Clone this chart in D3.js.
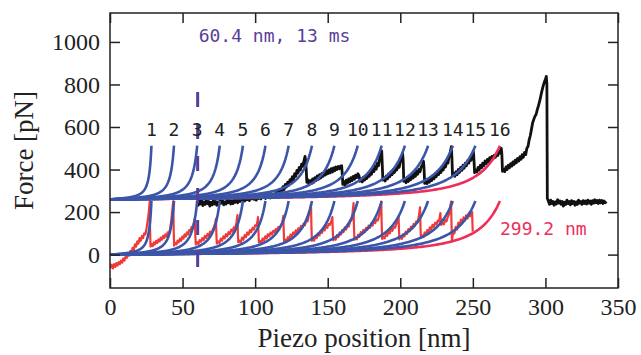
<!DOCTYPE html>
<html>
<head>
<meta charset="utf-8">
<script src="https://cdn.jsdelivr.net/npm/d3@7"></script>
<style>
  body { margin: 0; background: #fff; }
  .axis path { display: none; }
  .axis line { stroke: #222; stroke-width: 1.5; }
  .mono { font-family: "DejaVu Sans Mono", monospace; font-size: 18px; }
</style>
</head>
<body>
<script>
// tick values
var xTicks = [0, 50, 100, 150, 200, 250, 300, 350];
var yTicks = [0, 200, 400, 600, 800, 1000];

// contour lengths [nm] of the fitted curves (blue), and the last one (red)
var contourLengths = [31.8, 49.1, 66.9, 84.2, 102.0, 119.3, 137.1, 155.0, 172.2, 190.1, 208.5, 226.3, 244.1, 263.1, 280.4];
var lastContour = 299.2;
var peakLabels = ["1","2","3","4","5","6","7","8","9","10","11","12","13","14","15","16"];
var baselines = [0, 260];   // lower and upper copy of the fits [pN]
var fitTop = 252;           // force where the fitted curves stop [pN]

// marker: 60.4 nm
var markerX = 60.4;
var markerY = [-58, 765];

// lower trace (red): [piezo nm, force pN]
var redTrace = [
[0,-42],[0.6,-60],[1.2,-48],[2,-65],[2.8,-45],[3.6,-58],[4.4,-40],[5.2,-52],[6,-35],[6.8,-45],[7.6,-28],[8.4,-38],[9.2,-18],[10,-28],[10.8,-8],[11.6,-15],[12.4,5],[13.2,-5],[14,18],[14.8,10],[15.6,32],[16.4,22],[17.2,48],[18,38],[18.8,62],[19.6,52],[20.4,78],[21.2,65],[22,88],[22.8,78],[23.6,100],[24.4,95],[25.2,125],[26,160],[26.8,205],[27.4,252],[27.6,120],[27.9,38],
[28.6,50],[29.4,40],[30.2,58],[31,48],[31.8,65],[32.6,55],[33.4,72],[34.2,62],[35,80],[35.8,70],[36.6,88],[37.4,78],[38.2,95],[39,85],[39.8,105],[40.6,98],[41.4,120],[42.2,160],[43,215],[43.6,252],[43.9,110],[44.2,42],
[45,55],[45.8,48],[46.6,66],[47.4,58],[48.2,75],[49,65],[49.8,85],[50.6,75],[51.4,95],[52.2,85],[53,105],[53.8,95],[54.6,115],[55.4,108],[56.2,130],[57,125],[57.8,150],[58.5,172],[58.8,90],[59.1,48],
[60,58],[60.9,50],[61.8,68],[62.7,60],[63.6,78],[64.5,68],[65.4,88],[66.3,78],[67.2,98],[68.1,88],[69,108],[69.9,100],[70.8,118],[71.7,130],[72.5,150],[73,168],[73.3,95],[73.6,52],
[74.5,62],[75.4,55],[76.3,75],[77.2,66],[78.1,86],[79,76],[79.9,96],[80.8,86],[81.7,106],[82.6,96],[83.5,118],[84.4,108],[85.3,128],[86.2,122],[87.1,150],[87.8,186],[88.1,100],[88.4,58],
[89.2,66],[90.1,58],[91,80],[91.9,70],[92.8,92],[93.7,82],[94.6,104],[95.5,94],[96.4,115],[97.3,106],[98.2,126],[99.1,118],[100,138],[100.9,135],[101.6,158],[102,176],[102.3,105],[102.6,56],
[103.4,64],[104.3,56],[105.2,76],[106.1,66],[107,86],[107.9,76],[108.8,96],[109.7,86],[110.6,104],[111.5,95],[112.4,112],[113.3,104],[114.2,120],[115.1,112],[116,130],[116.9,122],[117.8,140],[118.7,150],[119.4,182],[119.7,110],[120,60],
[120.8,70],[121.7,62],[122.6,82],[123.5,72],[124.4,94],[125.3,84],[126.2,104],[127.1,95],[128,114],[128.9,105],[129.8,124],[130.7,115],[131.6,135],[132.5,126],[133.4,146],[134.3,138],[135.2,160],[136.1,156],[137,185],[137.8,210],[138.5,236],[138.8,130],[139.1,65],
[139.8,75],[140.7,66],[141.6,88],[142.5,78],[143.4,100],[144.3,90],[145.2,112],[146.1,102],[147,124],[147.9,114],[148.8,134],[149.7,126],[150.6,144],[151.5,140],[152.4,158],[153.2,176],[153.5,110],[153.8,68],
[154.6,78],[155.5,70],[156.4,92],[157.3,82],[158.2,104],[159.1,94],[160,116],[160.9,106],[161.8,128],[162.7,118],[163.6,140],[164.5,132],[165.4,155],[166.3,160],[167.1,195],[167.8,242],[168.1,130],[168.4,70],
[169.2,80],[170.1,72],[171,94],[171.9,84],[172.8,106],[173.7,96],[174.6,116],[175.5,106],[176.4,126],[177.3,116],[178.2,136],[179.1,126],[180,146],[180.9,136],[181.8,156],[182.7,148],[183.6,166],[184.5,160],[185.4,182],[186.2,215],[186.9,249],[187.2,140],[187.5,74],
[188.3,84],[189.2,76],[190.1,98],[191,88],[191.9,110],[192.8,100],[193.7,122],[194.6,112],[195.5,132],[196.4,126],[197.3,145],[198.2,160],[198.8,180],[199.1,115],[199.4,72],
[200.2,82],[201.1,74],[202,96],[202.9,86],[203.8,108],[204.7,98],[205.6,120],[206.5,110],[207.4,132],[208.3,122],[209.2,144],[210.1,136],[211,156],[211.9,152],[212.8,180],[213.6,222],[213.9,135],[214.2,80],
[215,90],[215.9,82],[216.8,104],[217.7,94],[218.6,116],[219.5,106],[220.4,128],[221.3,118],[222.2,140],[223.1,130],[224,150],[224.9,142],[225.8,160],[226.7,155],[227.6,195],[228.2,140],[229.1,150],[230,142],[230.9,162],[231.8,156],[232.7,176],[233.6,190],[234.4,225],[235,249],[235.3,140],[235.6,62],
[236.4,110],[237.3,100],[238.2,130],[239.1,118],[240,150],[240.9,138],[241.8,165],[242.7,150],[243.6,175],[244.5,160],[245.4,185],[246.3,170],[247.2,195],[248.1,180],[248.9,205],[249.5,200],[249.7,150],[249.9,108]
];

// upper trace (black): [piezo nm, force pN]
var blackTrace = [
[60,250],[60.8,232],[61.6,256],[62.4,238],[63.2,252],[64,230],[64.8,248],[65.6,236],[66.4,255],[67.2,240],[68,250],[68.8,228],[69.6,246],[70.4,234],[71.2,254],[72,238],[72.8,250],[73.6,232],[74.4,248],[75.2,236],[76,256],[76.8,242],[77.6,252],[78.4,234],[79.2,248],[80,238],[80.8,258],[81.6,244],[82.4,254],[83.2,238],[84,252],[84.8,240],[85.6,260],[86.4,246],[87.2,258],[88,244],[88.8,262],[89.6,250],[90.4,270],[91.2,256],[92,266],[92.8,252],[93.6,272],[94.4,258],[95.2,268],[96,254],[96.8,274],[97.6,262],[98.4,276],[99.2,260],[100,270],[100.8,256],[101.6,278],[102.4,264],[103.2,276],[104,262],[104.8,282],[105.6,268],[106.4,278],[107.2,264],[108,284],[108.8,270],[109.6,282],[110.4,266],[111.2,286],[112,272],[112.8,284],[113.6,270],[114.4,292],[115.2,280],[116,296],[116.8,284],[117.6,306],[118.4,296],[119.2,320],[120,306],[120.8,330],[121.6,318],[122.4,340],[123.2,326],[124,352],[124.8,340],[125.6,366],[126.4,352],[127.2,380],[128,368],[128.8,396],[129.6,384],[130.4,410],[131.2,398],[132,425],[132.8,415],[133.6,440],[134.4,462],[134.8,440],[135.2,400],[135.6,340],
[136.4,352],[137.2,330],[138,348],[138.8,334],[139.6,356],[140.4,340],[141.2,362],[142,348],[142.8,370],[143.6,354],[144.4,376],[145.2,360],[146,382],[146.8,368],[147.6,388],[148.4,374],[149.2,394],[150,380],[150.8,398],[151.6,384],[152.4,404],[153.2,388],[154,408],[154.8,394],[155.6,412],[156.4,400],[157.2,414],[158,404],[158.8,416],[159.6,418],[160,380],[160.4,330],
[161.2,344],[162,328],[162.8,350],[163.6,336],[164.4,356],[165.2,342],[166,362],[166.8,348],[167.6,368],[168.4,354],[169.2,374],[170,362],[170.8,380],[171.6,370],[172.2,345],[173,356],[173.8,342],[174.6,364],[175.4,350],[176.2,372],[177,358],[177.8,382],[178.6,368],[179.4,392],[180.2,378],[181,404],[181.8,390],[182.6,416],[183.4,402],[184.2,430],[185,418],[185.8,450],[186.6,470],[187.2,488],[187.6,420],[188,350],
[188.8,362],[189.6,346],[190.4,370],[191.2,356],[192,380],[192.8,366],[193.6,390],[194.4,376],[195.2,400],[196,386],[196.8,410],[197.6,398],[198.4,422],[199.2,410],[200,436],[200.8,448],[201.6,476],[202,440],[202.4,345],
[203.2,352],[204,338],[204.8,358],[205.6,344],[206.4,366],[207.2,352],[208,374],[208.8,360],[209.6,382],[210.4,368],[211.2,392],[212,378],[212.8,400],[213.6,390],[214.4,412],[215.2,420],[216,438],[216.4,400],[216.8,335],
[217.6,348],[218.4,334],[219.2,354],[220,340],[220.8,362],[221.6,348],[222.4,370],[223.2,356],[224,380],[224.8,366],[225.6,390],[226.4,376],[227.2,400],[228,386],[228.8,412],[229.6,398],[230.4,424],[231.2,412],[232,440],[232.8,430],[233.6,460],[234.4,480],[235.2,508],[235.6,450],[236,370],
[236.8,382],[237.6,368],[238.4,390],[239.2,376],[240,400],[240.8,386],[241.6,410],[242.4,396],[243.2,420],[244,406],[244.8,430],[245.6,418],[246.4,442],[247.2,430],[248,455],[248.8,444],[249.6,468],[250.4,484],[250.8,440],[251.2,385],
[252,398],[252.8,388],[253.6,410],[254.4,398],[255.2,420],[256,408],[256.8,430],[257.6,418],[258.4,440],[259.2,428],[260,448],[260.8,436],[261.6,456],[262.4,444],[263.2,462],[264,450],[264.8,468],[265.6,458],[266.4,476],[267.2,466],[268,486],[268.8,478],[269.6,500],[270,470],[270.4,392],
[271.2,402],[272,390],[272.8,412],[273.6,400],[274.4,420],[275.2,408],[276,428],[276.8,416],[277.6,436],[278.4,424],[279.2,444],[280,432],[280.8,452],[281.6,440],[282.4,460],[283.2,448],[284,470],[284.8,458],[285.6,480],[286.4,470],[287.2,500],[288,508],[288.8,540],[289.6,560],[290.4,590],[291.2,620],[292,636],[292.8,650],[293.6,660],[294.4,682],[295.2,700],[296,720],[296.8,745],[297.6,770],[298.4,792],[299.2,810],[300,825],[300.6,838],[301,800],[301.3,265],
[302,252],[302.8,236],[303.6,256],[304.4,240],[305.2,250],[306,232],[306.8,248],[307.6,238],[308.4,258],[309.2,242],[310,252],[310.8,236],[311.6,250],[312.4,228],[313.2,246],[314,236],[314.8,256],[315.6,240],[316.4,250],[317.2,234],[318,254],[318.8,240],[319.6,250],[320.4,232],[321.2,248],[322,236],[322.8,256],[323.6,242],[324.4,250],[325.2,236],[326,254],[326.8,240],[327.6,252],[328.4,238],[329.2,256],[330,242],[330.8,252],[331.6,236],[332.4,254],[333.2,242],[334,258],[334.8,244],[335.6,254],[336.4,240],[337.2,256],[338,244],[338.8,254],[339.6,240],[340.4,252],[341.2,244],[342,250]
];

// set the dimensions and margins of the graph
var W = 641, H = 355;
var margin = {top: 13, right: 23, bottom: 67, left: 110};
var width = W - margin.left - margin.right,
    height = H - margin.top - margin.bottom;
var serif = "'Liberation Serif', 'Times New Roman', serif";

var x = d3.scaleLinear().domain([0, 350]).range([0, width]);
var y = d3.scaleLinear().domain([-157, 1136]).range([height, 0]);

var svg = d3.select("body").append("svg")
  .attr("width", W)
  .attr("height", H)
  .append("g")
  .attr("transform", "translate(" + margin.left + "," + margin.top + ")");

// worm-like chain force (kT/p = 10.25 pN)
function wlc(r) { return 10.25 * (0.25 / ((1 - r) * (1 - r)) - 0.25 + r); }
// relative extension where force reaches fitTop
var lo = 0, hi = 0.999;
for (var k = 0; k < 60; k++) { var mid = (lo + hi) / 2; if (wlc(mid) < fitTop) lo = mid; else hi = mid; }
var rTop = lo;

function fitPoints(L, base) {
  var pts = d3.range(0, rTop, 0.004).map(function(r) { return [r * L, base + wlc(r)]; });
  pts.push([rTop * L, base + fitTop]);
  return pts;
}

var line = d3.line()
  .x(function(d) { return x(d[0]); })
  .y(function(d) { return y(d[1]); });

svg.append("defs").append("clipPath").attr("id", "clip")
  .append("rect").attr("width", width).attr("height", height);
var plot = svg.append("g").attr("clip-path", "url(#clip)");

// traces
plot.append("path").datum(redTrace)
  .attr("d", line).attr("fill", "none")
  .attr("stroke", "#f03a3a").attr("stroke-width", 2.2).attr("stroke-linejoin", "round");
plot.append("path").datum(blackTrace)
  .attr("d", line).attr("fill", "none")
  .attr("stroke", "#111").attr("stroke-width", 2.8).attr("stroke-linejoin", "round");

// fitted curves
baselines.forEach(function(b) {
  plot.append("path").datum(fitPoints(lastContour, b))
    .attr("d", line).attr("fill", "none")
    .attr("stroke", "#ee2d5b").attr("stroke-width", 2.6);
  contourLengths.forEach(function(L) {
    plot.append("path").datum(fitPoints(L, b))
      .attr("d", line).attr("fill", "none")
      .attr("stroke", "#3b55a8").attr("stroke-width", 2.6);
  });
});

// marker line
plot.append("line")
  .attr("x1", x(markerX)).attr("x2", x(markerX))
  .attr("y1", y(markerY[1])).attr("y2", y(markerY[0]))
  .attr("stroke", "#5a3d9a").attr("stroke-width", 3)
  .attr("stroke-dasharray", "15,17");

// peak numbers
var ends = contourLengths.concat([lastContour]).map(function(L) { return L * rTop; });
svg.selectAll(".num").data(peakLabels).enter().append("text")
  .attr("class", "mono")
  .attr("x", function(d, i) { return x(ends[i]); })
  .attr("y", 123)
  .attr("text-anchor", "middle")
  .attr("fill", "#222")
  .text(function(d) { return d; });

svg.append("text").attr("class", "mono")
  .attr("x", x(markerX) + 1).attr("y", 29)
  .attr("fill", "#5a3d9a")
  .text("60.4 nm, 13 ms");

svg.append("text").attr("class", "mono")
  .attr("x", 390).attr("y", 222)
  .attr("fill", "#ee2d5b")
  .text("299.2 nm");

// axes (ticks inward)
var fmt = d3.format("d");
var axes = [
  svg.append("g").attr("transform", "translate(0," + height + ")")
    .call(d3.axisBottom(x).tickValues(xTicks).tickSize(-10).tickPadding(10).tickFormat(fmt)),
  svg.append("g")
    .call(d3.axisTop(x).tickValues(xTicks).tickSize(-10).tickFormat("")),
  svg.append("g")
    .call(d3.axisLeft(y).tickValues(yTicks).tickSize(-10).tickPadding(10).tickFormat(fmt)),
  svg.append("g").attr("transform", "translate(" + width + ",0)")
    .call(d3.axisRight(y).tickValues(yTicks).tickSize(-10).tickFormat(""))
];
axes.forEach(function(g) {
  g.attr("class", "axis").attr("font-family", serif).attr("font-size", 24);
  g.selectAll("text").attr("fill", "#222");
});

svg.append("rect")
  .attr("width", width).attr("height", height)
  .attr("fill", "none").attr("stroke", "#222").attr("stroke-width", 1.5);

// axis labels
svg.append("text")
  .attr("x", width / 2).attr("y", height + 59)
  .attr("text-anchor", "middle")
  .attr("font-family", serif).attr("font-size", 27).attr("fill", "#222")
  .text("Piezo position [nm]");
svg.append("text")
  .attr("transform", "translate(-77," + (height / 2) + ") rotate(-90)")
  .attr("text-anchor", "middle")
  .attr("font-family", serif).attr("font-size", 27).attr("fill", "#222")
  .text("Force [pN]");
</script>
</body>
</html>
